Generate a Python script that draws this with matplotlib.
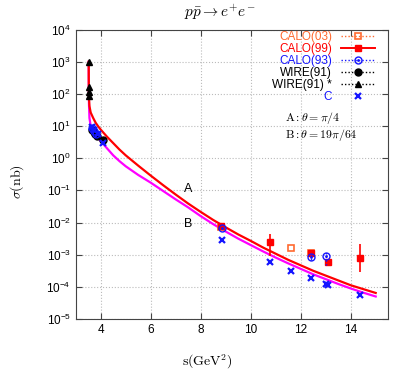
import numpy as np
import matplotlib
matplotlib.use('Agg')
import matplotlib.pyplot as plt
from matplotlib.lines import Line2D
from matplotlib.legend_handler import HandlerTuple

plt.rcParams['font.family'] = ['Liberation Sans', 'DejaVu Sans']
plt.rcParams['mathtext.fontset'] = 'cm'

# theory curves, log10(sigma/nb)
s_th = [3.52, 3.522, 3.525, 3.53, 3.55, 3.6, 3.7, 3.8, 3.9, 4.0, 4.25, 4.5, 4.75,
        5.0, 5.5, 6.0, 6.5, 7.0, 7.5, 8.0, 8.5, 9.0, 9.5, 10.0, 10.5, 11.0, 11.5,
        12.0, 12.5, 13.0, 13.5, 14.0, 14.5, 15.0]
logA = [3.0, 2.5, 2.15, 1.9, 1.62, 1.42, 1.25, 1.1, 0.99, 0.89, 0.67, 0.47, 0.27,
        0.09, -0.23, -0.54, -0.84, -1.13, -1.41, -1.67, -1.92, -2.15, -2.37, -2.57,
        -2.78, -2.97, -3.16, -3.33, -3.5, -3.65, -3.8, -3.95, -4.07, -4.19]
logB = [3.0, 2.4, 2.0, 1.7, 1.25, 1.0, 0.83, 0.72, 0.62, 0.53, 0.31, 0.09, -0.09,
        -0.25, -0.52, -0.76, -1.02, -1.28, -1.53, -1.8, -2.05, -2.28, -2.5, -2.7,
        -2.9, -3.09, -3.27, -3.44, -3.61, -3.76, -3.91, -4.05, -4.18, -4.3]

# data sets
calo03_s = [8.8, 11.6, 12.4]
calo03_y = [7.5e-3, 1.6e-3, 1.1e-3]

calo99_s = [8.81, 10.77, 12.43, 13.11, 14.38]
calo99_y = [8.0e-3, 2.5e-3, 1.1e-3, 6.1e-4, 8.0e-4]
calo99_lo = [0.5e-3, 1.56e-3, 1.5e-4, 1.5e-4, 5.1e-4]
calo99_hi = [0.5e-3, 2.0e-3, 1.5e-4, 1.5e-4, 1.4e-3]

calo93_s = [3.66, 3.74, 3.82, 8.85, 12.41, 13.0]
calo93_y = [8.5, 7.0, 5.5, 6.8e-3, 8.5e-4, 8.9e-4]
calo93_lo = [0.5, 0.4, 0.3, 0.5e-3, 1.5e-4, 4.1e-4]
calo93_hi = [0.5, 0.4, 0.3, 0.5e-3, 2.0e-4, 3.1e-4]

wire_s = [3.67, 3.72, 3.78, 3.85, 4.11]
wire_y = [7.6, 6.6, 5.8, 5.0, 3.8]

wire2_s = [3.52, 3.525, 3.53, 3.535]
wire2_y = [950, 170, 118, 88]

c_s = [3.67, 3.75, 3.88, 4.1, 8.85, 10.77, 11.6, 12.41, 13.0, 13.11, 14.38]
c_y = [9.5, 7.5, 5.5, 3.0, 2.8e-3, 5.8e-4, 3.2e-4, 1.85e-4, 1.27e-4, 1.18e-4, 5.5e-5]

orange = '#ff6a30'
blue = '#1515ff'
dots = (0, (1, 1.5))

fig = plt.figure(figsize=(4.03, 3.73), dpi=100)
ax = fig.add_axes([75.7/403, 1-319/373, (388.2-75.7)/403, (319-29.6)/373])

ax.plot(s_th, 10**np.array(logB), color='#ff00ff', lw=1.6, zorder=3)
ax.plot(s_th, 10**np.array(logA), color='#ff0000', lw=1.6, zorder=3)

ax.errorbar(calo99_s, calo99_y, yerr=[calo99_lo, calo99_hi], fmt='s', color='red',
            ms=5, elinewidth=1.2, capsize=0, zorder=4)
ax.plot(calo03_s, calo03_y, 's', mfc='none', mec=orange, ms=5, mew=1.2, zorder=4)
eb = ax.errorbar(calo93_s, calo93_y, yerr=[calo93_lo, calo93_hi], fmt='o', color=blue,
                 mfc='none', ms=5, mew=1.0, elinewidth=1.0, capsize=0, zorder=5)
eb[2][0].set_linestyle(':')
ax.plot(calo93_s, calo93_y, '.', color=blue, ms=2, zorder=5)
ax.plot(wire_s, wire_y, 'o', color='black', ms=5, zorder=5)
ax.plot(wire2_s, wire2_y, '^', color='black', ms=5, zorder=5)
ax.plot(c_s, c_y, 'x', color=blue, ms=5, mew=1.6, zorder=6)

ax.set_yscale('log')
ax.set_xlim(3, 15.5)
ax.set_ylim(1e-5, 1e4)
ax.set_xticks([4, 6, 8, 10, 12, 14])
ax.set_yticks([10.0**k for k in range(-5, 5)])
ax.minorticks_off()
ax.tick_params(direction='in', top=True, right=True, labelsize=8.5, length=4,
               color='#444444')
for sp in ax.spines.values():
    sp.set_color('#444444')
ax.grid(True, ls=':', color='#bbbbbb', lw=0.8)

ax.text(7.5, 0.11, 'A', fontsize=9, ha='center', va='center')
ax.text(7.5, 9.0e-3, 'B', fontsize=9, ha='center', va='center')
ax.text(11.37, 10**1.25, r'$\mathrm{A}:\theta=\pi/4$', fontsize=8.5, va='center')
ax.text(11.37, 10**0.72, r'$\mathrm{B}:\theta=19\pi/64$', fontsize=8.5, va='center')

h1 = Line2D([], [], ls=dots, lw=1, color=orange, marker='s', mfc='none', ms=5, mew=1.2)
h2 = Line2D([], [], ls='-', color='red', marker='s', ms=5, lw=1.4)
h3a = Line2D([], [], ls=dots, lw=1, color=blue, marker='o', mfc='none', ms=5)
h3b = Line2D([], [], ls='none', color=blue, marker='.', ms=2)
h4 = Line2D([], [], ls=dots, lw=1, color='black', marker='o', ms=5)
h5 = Line2D([], [], ls=dots, lw=1, color='black', marker='^', ms=5)
h6 = Line2D([], [], ls='none', color=blue, marker='x', ms=5, mew=1.6)
labels = ['CALO(03)', 'CALO(99)', 'CALO(93)', 'WIRE(91)', 'WIRE(91) *', 'C']
leg = ax.legend([h1, h2, (h3a, h3b), h4, h5, h6], labels,
                handler_map={tuple: HandlerTuple(ndivide=1, pad=0)},
                loc='upper right', bbox_to_anchor=(0.958, 0.995), frameon=False,
                markerfirst=False, fontsize=8.5, handlelength=2.9,
                handletextpad=0.75, labelspacing=0.0, borderaxespad=0.0,
                borderpad=0.0,
                labelcolor=[orange, 'red', blue, 'black', 'black', blue])

fig.text(220/403, 1-12/373, r'$p\bar{p}\rightarrow e^{+}e^{-}$', fontsize=11,
         ha='center', va='center')
fig.text(207/403, 1-362/373, r'$\mathrm{s(GeV^2)}$', fontsize=10,
         ha='center', va='center')
fig.text(17/403, 1-182/373, r'$\sigma(\mathrm{nb})$', fontsize=10, rotation=90,
         ha='center', va='center')

fig.savefig('out.png', dpi=100)
